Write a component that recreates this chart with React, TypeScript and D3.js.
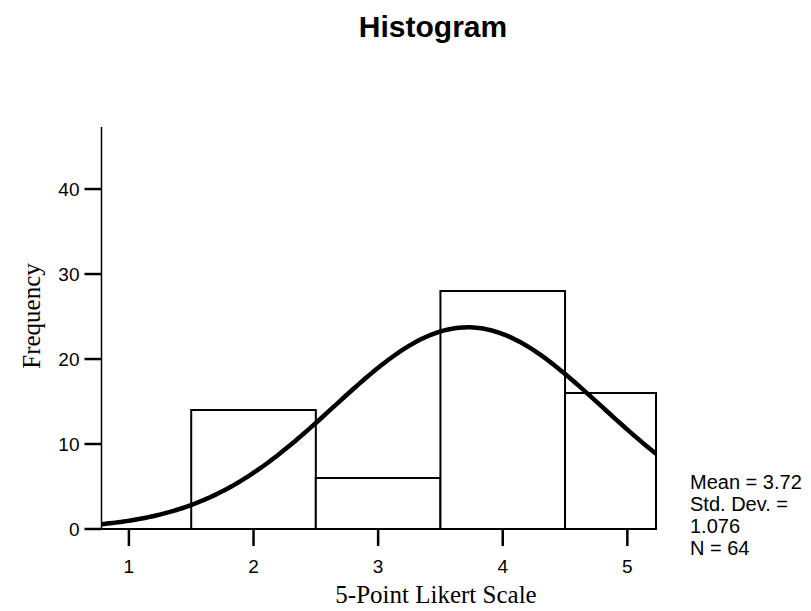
import React from 'react';
import * as d3 from 'd3';

const width = 811;
const height = 611;
const margin = { top: 127, right: 155, bottom: 82, left: 101.5 };

// histogram bins (lower edge, upper edge) and counts
const binStarts = [0.5, 1.5, 2.5, 3.5, 4.5];
const binEnds = [1.5, 2.5, 3.5, 4.5, 5.5];
const counts = [0, 14, 6, 28, 16];

const xTicks = [1, 2, 3, 4, 5];
const yTicks = [0, 10, 20, 30, 40];

const mean = 3.72;
const stdDev = 1.076;
const n = 64;
const statLines = ['Mean = 3.72', 'Std. Dev. =', '1.076', 'N = 64'];

const xDomain = [0.78, 5.23];
const yDomain = [0, 47.3];

const App = () => {
  const xScale = d3.scaleLinear()
    .domain(xDomain)
    .range([margin.left, width - margin.right]);

  const yScale = d3.scaleLinear()
    .domain(yDomain)
    .range([height - margin.bottom, margin.top]);

  const bars = binStarts.map((s, i) => ({
    x0: Math.max(s, xDomain[0]),
    x1: Math.min(binEnds[i], xDomain[1]),
    count: counts[i],
  })).filter(d => d.count > 0);

  // fitted normal curve, scaled to bin width 1
  const curveXs = d3.range(0, 201).map(i => xDomain[0] + (xDomain[1] - xDomain[0]) * i / 200);
  const normal = (x: number) =>
    n * Math.exp(-0.5 * ((x - mean) / stdDev) ** 2) / (stdDev * Math.sqrt(2 * Math.PI));

  const line = d3.line<number>()
    .x(d => xScale(d))
    .y(d => yScale(normal(d)));

  const x0 = xScale(xDomain[0]);
  const x1 = xScale(xDomain[1]);
  const y0 = yScale(0);

  return (
    <svg width={width} height={height} style={{ position: 'absolute', left: 0, top: 0 }}>
      <rect width={width} height={height} fill="white" />
      <text x={433} y={37} textAnchor="middle" fontFamily="Liberation Sans, Arial, sans-serif"
        fontWeight="bold" fontSize={30}>Histogram</text>

      {bars.map((d, i) => (
        <rect key={i} x={xScale(d.x0)} y={yScale(d.count)}
          width={xScale(d.x1) - xScale(d.x0)} height={y0 - yScale(d.count)}
          fill="white" stroke="black" strokeWidth={2} />
      ))}

      <path d={line(curveXs) || ''} fill="none" stroke="black" strokeWidth={4.5} />

      {/* axes */}
      <line x1={x0} x2={x0} y1={yScale(yDomain[1])} y2={y0} stroke="black" strokeWidth={1.5} />
      <line x1={x0} x2={x1} y1={y0} y2={y0} stroke="black" strokeWidth={2} />

      {yTicks.map(t => (
        <g key={t}>
          <line x1={x0 - 17} x2={x0} y1={yScale(t)} y2={yScale(t)} stroke="black" strokeWidth={2.5} />
          <text x={x0 - 22} y={yScale(t) + 7} textAnchor="end"
            fontFamily="Liberation Sans, Arial, sans-serif" fontSize={19}>{t}</text>
        </g>
      ))}

      {xTicks.map(t => (
        <g key={t}>
          <line x1={xScale(t)} x2={xScale(t)} y1={y0} y2={y0 + 17} stroke="black" strokeWidth={2.5} />
          <text x={xScale(t)} y={y0 + 44} textAnchor="middle"
            fontFamily="Liberation Sans, Arial, sans-serif" fontSize={19}>{t}</text>
        </g>
      ))}

      <text transform="rotate(-90)" x={-316} y={40} textAnchor="middle"
        fontFamily="Liberation Serif, Times New Roman, serif" fontSize={25}>Frequency</text>
      <text x={436} y={603} textAnchor="middle"
        fontFamily="Liberation Serif, Times New Roman, serif" fontSize={25}>5-Point Likert Scale</text>

      {statLines.map((s, i) => (
        <text key={i} x={690} y={489 + i * 22} fontFamily="Liberation Sans, Arial, sans-serif"
          fontSize={20}>{s}</text>
      ))}
    </svg>
  );
};

export default App;
